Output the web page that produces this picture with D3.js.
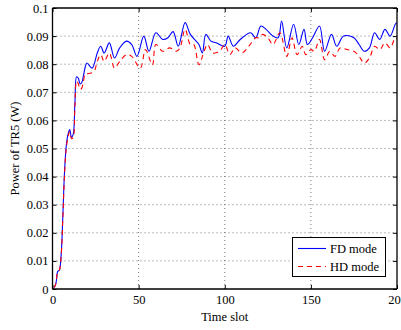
<!DOCTYPE html>
<html><head><meta charset="utf-8">
<script src="https://cdn.jsdelivr.net/npm/d3@7"></script>
<style>body{margin:0;background:#fff}svg{display:block}</style>
</head><body>
<script>
const xTicks = [0, 50, 100, 150, 200];
const yTicks = [0, 0.01, 0.02, 0.03, 0.04, 0.05, 0.06, 0.07, 0.08, 0.09, 0.1];
const yTickLabels = ["0","0.01","0.02","0.03","0.04","0.05","0.06","0.07","0.08","0.09","0.1"];

const fdSlots = [1,2,3,4,5,6,7,8,9,10,11,12,13,14,15,16,17,18,19,20,23,26,28,30,33,36,39,43,46,49,53,56,60,64,67,70,73,77,80,85,87,89,92,95,100,102,105,109,115,118,121,124,128,131,133,136,140,143,146,148,151,155,158,162,165,169,175,178,181,184,187,190,193,196,199,200];
const fdPower = [0.0005,0.002,0.0062,0.0068,0.012,0.026,0.042,0.051,0.055,0.0567,0.054,0.055,0.066,0.0755,0.075,0.073,0.0735,0.076,0.079,0.0804,0.0786,0.084,0.0864,0.084,0.0876,0.0822,0.0858,0.0882,0.087,0.0828,0.09,0.0846,0.0912,0.0888,0.0894,0.0916,0.0864,0.0948,0.0906,0.087,0.084,0.0906,0.0882,0.0876,0.0864,0.09,0.0864,0.0888,0.0912,0.0894,0.0936,0.0924,0.09,0.0894,0.0954,0.0858,0.0942,0.087,0.0924,0.087,0.0894,0.0936,0.0846,0.0906,0.0864,0.09,0.0894,0.087,0.0846,0.0858,0.0912,0.0888,0.0924,0.09,0.0942,0.0948];

const hdSlots = [1,2,3,4,5,6,7,8,9,10,11,12,13,14,15,16,17,18,19,21,24,26,28,30,33,36,39,43,46,51,54,58,60,64,68,72,74,77,80,82,85,88,90,93,97,100,103,106,110,114,118,120,122,125,128,132,136,139,142,145,147,150,152,155,158,161,164,167,171,175,178,181,184,187,190,193,196,199,200];
const hdPower = [0.0005,0.002,0.006,0.0067,0.0115,0.025,0.041,0.05,0.054,0.056,0.0535,0.054,0.065,0.074,0.073,0.071,0.0715,0.074,0.0765,0.0767,0.0773,0.081,0.0834,0.081,0.084,0.0786,0.081,0.0834,0.0828,0.0786,0.0852,0.0798,0.087,0.0846,0.0858,0.0846,0.0858,0.0924,0.087,0.087,0.0798,0.0846,0.087,0.084,0.0846,0.087,0.0834,0.0858,0.084,0.0864,0.0894,0.0894,0.0906,0.0894,0.087,0.0912,0.0828,0.0894,0.0834,0.0864,0.0834,0.0852,0.0846,0.0888,0.0816,0.0846,0.0828,0.0858,0.0852,0.0846,0.0828,0.0804,0.0822,0.0864,0.0852,0.0876,0.0858,0.0894,0.089];

const seriesNames = ["FD mode", "HD mode"];

const W = 401, H = 330;
const m = {left: 52.5, right: 397, top: 8, bottom: 289};
const svg = d3.select("body").append("svg").attr("width", W).attr("height", H);
const font = "'Liberation Serif', 'Times New Roman', serif";

const x = d3.scaleLinear().domain([0, 200]).range([m.left, m.right]);
const y = d3.scaleLinear().domain([0, 0.1]).range([m.bottom, m.top]);

// grid
const grid = svg.append("g").attr("stroke", "#555").attr("stroke-width", 0.8).attr("stroke-dasharray", "1,3");
xTicks.slice(1, -1).forEach(t => grid.append("line").attr("x1", x(t)).attr("x2", x(t)).attr("y1", m.top).attr("y2", m.bottom));
yTicks.slice(1, -1).forEach(t => grid.append("line").attr("x1", m.left).attr("x2", m.right).attr("y1", y(t)).attr("y2", y(t)));

// lines
const line = d3.line().curve(d3.curveCatmullRom.alpha(0.5));
const fdPts = fdSlots.map((s, i) => [x(s), y(fdPower[i])]);
const hdPts = hdSlots.map((s, i) => [x(s), y(hdPower[i])]);
const clip = svg.append("clipPath").attr("id", "c").append("rect").attr("x", m.left).attr("y", m.top).attr("width", m.right - m.left).attr("height", m.bottom - m.top);
svg.append("path").attr("d", line(fdPts)).attr("fill", "none").attr("stroke", "#0000ff").attr("stroke-width", 1.1).attr("clip-path", "url(#c)");
svg.append("path").attr("d", line(hdPts)).attr("fill", "none").attr("stroke", "#ff0000").attr("stroke-width", 1.1).attr("stroke-dasharray", "5,4").attr("clip-path", "url(#c)");

// axes frame and ticks
const axB = d3.axisBottom(x).tickValues(xTicks).tickSize(-4).tickPadding(6).tickFormat(d3.format("d"));
const axT = d3.axisTop(x).tickValues(xTicks).tickSize(-4).tickFormat("");
const axL = d3.axisLeft(y).tickValues(yTicks).tickSize(-4).tickPadding(4).tickFormat((d, i) => yTickLabels[i]);
const axR = d3.axisRight(y).tickValues(yTicks).tickSize(-4).tickFormat("");
function style(g) {
  g.selectAll("path").attr("stroke", "#000").attr("stroke-width", 1.3);
  g.selectAll("line").attr("stroke", "#000");
  g.selectAll("text").attr("font-family", font).attr("font-size", 12.5).attr("fill", "#000");
}
svg.append("g").attr("transform", `translate(0,${m.bottom})`).call(axB).call(style).call(g => g.select(".domain").attr("d", `M${m.left},0H${m.right}`));
svg.append("g").attr("transform", `translate(0,${m.top})`).call(axT).call(style).call(g => g.select(".domain").attr("d", `M${m.left},0H${m.right}`));
svg.append("g").attr("transform", `translate(${m.left},0)`).call(axL).call(style).call(g => g.select(".domain").attr("d", `M0,${m.top}V${m.bottom}`));
svg.append("g").attr("transform", `translate(${m.right},0)`).call(axR).call(style).call(g => g.select(".domain").attr("d", `M0,${m.top}V${m.bottom}`));

// axis titles
svg.append("text").attr("x", (m.left + m.right) / 2).attr("y", 321).attr("text-anchor", "middle")
  .attr("font-family", font).attr("font-size", 12.5).text("Time slot");
svg.append("text").attr("transform", `translate(19,${(m.top + m.bottom) / 2}) rotate(-90)`).attr("text-anchor", "middle")
  .attr("font-family", font).attr("font-size", 12.5).text("Power of TR5 (W)");

// legend
const lg = svg.append("g");
lg.append("rect").attr("x", 292.5).attr("y", 237.5).attr("width", 93).attr("height", 39).attr("fill", "#fff").attr("stroke", "#000").attr("stroke-width", 1);
const lgColors = ["#0000ff", "#ff0000"];
const lgDash = [null, "5,4"];
seriesNames.forEach((n, i) => {
  const yy = 248.5 + i * 18;
  lg.append("line").attr("x1", 298).attr("x2", 326).attr("y1", yy).attr("y2", yy).attr("stroke", lgColors[i]).attr("stroke-width", 1.1).attr("stroke-dasharray", lgDash[i]);
  lg.append("text").attr("x", 330).attr("y", yy + 4.3).attr("font-family", font).attr("font-size", 12.5).text(n);
});
</script>
</body></html>
